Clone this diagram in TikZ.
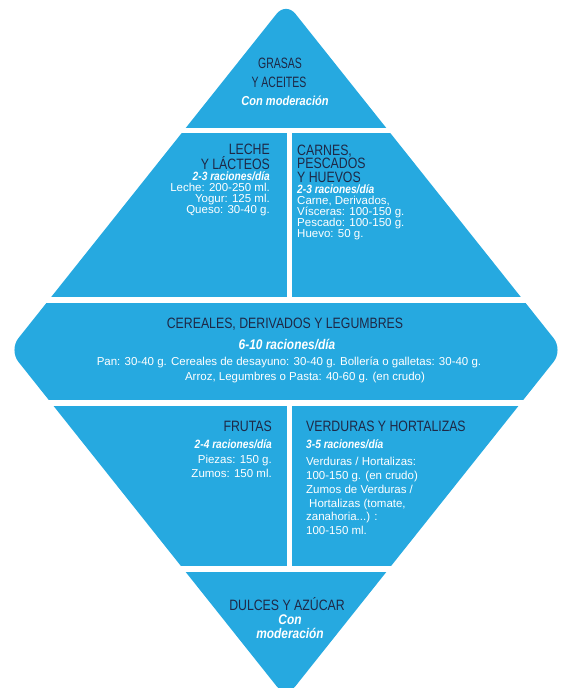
\documentclass[tikz,border=0pt]{standalone}
\usepackage{fontspec}
\setmainfont{Liberation Sans}
\newfontfamily\ttlfont{Liberation Sans}[FakeStretch=0.82]
\newfontfamily\topfont{Liberation Sans}[FakeStretch=0.70]
\newfontfamily\bdyfont{Liberation Sans}
\newfontfamily\racfont{Liberation Sans}[FakeStretch=0.85]
\definecolor{pyrblue}{RGB}{38,169,224}
\definecolor{navy}{RGB}{30,40,70}
\tikzset{
  ttl/.style={inner sep=0pt, text=navy, font=\ttlfont\fontsize{15}{15}\selectfont},
  ttltop/.style={inner sep=0pt, text=navy, font=\topfont\fontsize{15}{15}\selectfont},
  rac/.style={inner sep=0pt, text=white, font=\racfont\bfseries\itshape\fontsize{12}{12}\selectfont},
  racbig/.style={inner sep=0pt, text=white, font=\racfont\bfseries\itshape\fontsize{14}{14}\selectfont},
  bdy/.style={inner sep=0pt, text=white, font=\bdyfont\fontsize{11.5}{11.5}\selectfont},
  gap/.style={fill=white},
}
\begin{document}
\begin{tikzpicture}[x=1pt,y=-1pt]
\useasboundingbox (0,0) rectangle (562,688);
\clip (0,0) rectangle (562,688);
% diamond
\fill[pyrblue, rounded corners=15pt] (286,2) -- (563,350) -- (286,698) -- (9,350) -- cycle;
% white gaps
\fill[gap] (0,128) rectangle (562,133);
\fill[gap] (0,297) rectangle (562,303);
\fill[gap] (0,400) rectangle (562,406);
\fill[gap] (0,566) rectangle (562,572);
\fill[gap] (286.5,133) rectangle (291.5,297);
\fill[gap] (286.5,406) rectangle (291.5,566);
% top triangle
\node[ttltop, anchor=base] (g1) at (280,68) {GRASAS};
\node[ttltop, anchor=base] (g2) at (279,87) {Y ACEITES};
\node[rac, anchor=base, font=\racfont\bfseries\itshape\fontsize{13}{13}\selectfont] (g3) at (285,105) {Con moderación};
% leche
\node[ttl, anchor=base east] (l1) at (270,154.5) {LECHE};
\node[ttl, anchor=base east] (l2) at (270,169) {Y LÁCTEOS};
\node[rac, anchor=base east] (l3) at (270,180.5) {2-3 raciones/día};
\node[bdy, anchor=base east] (l4) at (270,191) {Leche: 200-250 ml.};
\node[bdy, anchor=base east] (l5) at (270,202) {Yogur: 125 ml.};
\node[bdy, anchor=base east] (l6) at (270,213) {Queso: 30-40 g.};
% carnes
\node[ttl, anchor=base west] (c1) at (297,155) {CARNES,};
\node[ttl, anchor=base west] (c2) at (297,168.5) {PESCADOS};
\node[ttl, anchor=base west] (c3) at (297,182) {Y HUEVOS};
\node[rac, anchor=base west] (c4) at (297,193.5) {2-3 raciones/día};
\node[bdy, anchor=base west] (c5) at (297,204) {Carne, Derivados,};
\node[bdy, anchor=base west] (c6) at (297,215) {Vísceras: 100-150 g.};
\node[bdy, anchor=base west] (c7) at (297,226) {Pescado: 100-150 g.};
\node[bdy, anchor=base west] (c8) at (297,237) {Huevo: 50 g.};
% cereales
\node[ttl, anchor=base] (e1) at (285,328) {CEREALES, DERIVADOS Y LEGUMBRES};
\node[racbig, anchor=base] (e2) at (287,349.5) {6-10 raciones/día};
\node[bdy, anchor=base] (e3) at (289,365) {Pan: 30-40 g. Cereales de desayuno: 30-40 g. Bollería o galletas: 30-40 g.};
\node[bdy, anchor=base] (e4) at (305,380) {Arroz, Legumbres o Pasta: 40-60 g. (en crudo)};
% frutas
\node[ttl, anchor=base east] (f1) at (272,431) {FRUTAS};
\node[rac, anchor=base east] (f2) at (272,448) {2-4 raciones/día};
\node[bdy, anchor=base east] (f3) at (272,463) {Piezas: 150 g.};
\node[bdy, anchor=base east] (f4) at (272,477) {Zumos: 150 ml.};
% verduras
\node[ttl, anchor=base west] (v1) at (306,431) {VERDURAS Y HORTALIZAS};
\node[rac, anchor=base west] (v2) at (306,448) {3-5 raciones/día};
\node[bdy, anchor=base west] (v3) at (306,465) {Verduras / Hortalizas:};
\node[bdy, anchor=base west] (v4) at (306,479) {100-150 g. (en crudo)};
\node[bdy, anchor=base west] (v5) at (306,493) {Zumos de Verduras /};
\node[bdy, anchor=base west] (v6) at (309,507) {Hortalizas (tomate,};
\node[bdy, anchor=base west] (v7) at (306,520.5) {zanahoria...) :};
\node[bdy, anchor=base west] (v8) at (306,534) {100-150 ml.};
% dulces
\node[ttl, anchor=base] (d1) at (287,610) {DULCES Y AZÚCAR};
\node[racbig, anchor=base] (d2) at (290,624.5) {Con};
\node[racbig, anchor=base] (d3) at (290,638) {moderación};
\end{tikzpicture}
\end{document}
